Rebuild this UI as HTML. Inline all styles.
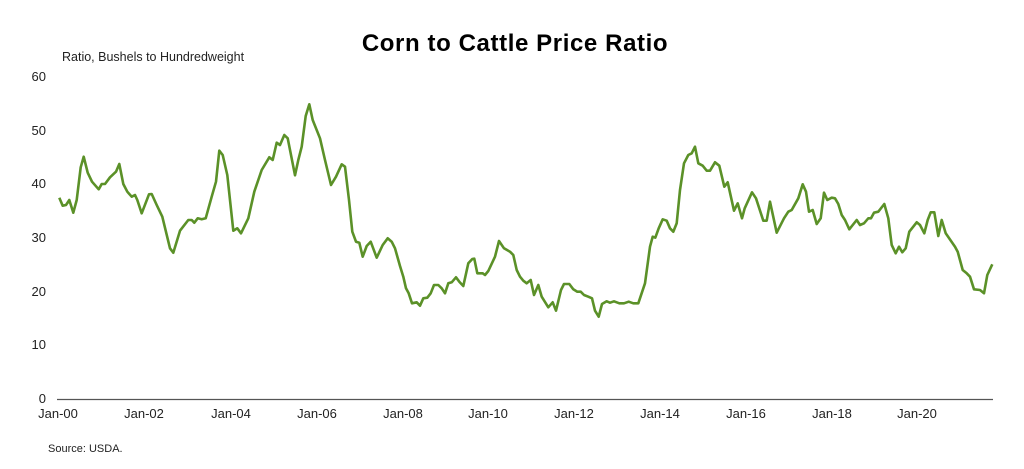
<!DOCTYPE html>
<html><head><meta charset="utf-8"><style>
body{margin:0;background:#fff;}
svg{display:block;font-family:"Liberation Sans",Arial,sans-serif;}
</style></head><body>
<svg width="1024" height="469" viewBox="0 0 1024 469" xmlns="http://www.w3.org/2000/svg">
<rect width="1024" height="469" fill="#fff"/>
<text x="515" y="51" text-anchor="middle" font-size="24" font-weight="bold" letter-spacing="0.6" fill="#000">Corn to Cattle Price Ratio</text>
<text x="62" y="61" font-size="12.5" fill="#222">Ratio, Bushels to Hundredweight</text>
<g font-size="13" fill="#222" text-anchor="end">
<text x="46" y="81">60</text><text x="46" y="135">50</text><text x="46" y="188">40</text>
<text x="46" y="242">30</text><text x="46" y="296">20</text><text x="46" y="349">10</text><text x="46" y="403">0</text>
</g>
<line x1="57" y1="399.5" x2="993" y2="399.5" stroke="#555" stroke-width="1.3"/>
<g font-size="13" fill="#222" text-anchor="middle">
<text x="58" y="418">Jan-00</text><text x="144" y="418">Jan-02</text><text x="231" y="418">Jan-04</text>
<text x="317" y="418">Jan-06</text><text x="403" y="418">Jan-08</text><text x="488" y="418">Jan-10</text>
<text x="574" y="418">Jan-12</text><text x="660" y="418">Jan-14</text><text x="746" y="418">Jan-16</text>
<text x="832" y="418">Jan-18</text><text x="917" y="418">Jan-20</text>
</g>
<text x="48" y="452" font-size="11" fill="#222">Source: USDA.</text>
<polyline fill="none" stroke="#5b9128" stroke-width="2.6" stroke-linejoin="round" points="
59.3,197.7 62.7,205.7 66,205 69.3,200 73.3,212.7 76.7,200 80.7,167.3 83.7,156.7 87.7,172.7 92,181.7 98.7,189.3 101.7,184 105,184 110,177.3 116,171.7 119.3,164 123.3,184 127.3,191.7 131.7,196.7 135,195 137.3,200 141.7,213.3 149,194.3 151.7,194 156.7,205 162.3,216.7 170,248.3 173.3,252.7 180,230.7 188.3,220 191.7,220 194.3,222.7 197.7,218.3 201.7,219.3 205.7,218.3 211.7,196.7 216,181.7 219.3,150.7 222.7,155 227.3,175 233.3,230.7 237.3,228.3 241,233.3 248.3,218.3 254.3,191.7 261.7,170 269.3,157.3 272.7,160 276.7,142.7 280,145 284.3,135 287.7,138.3 295,175.3 298.3,160 301.7,146.7 305.7,116 309.3,104.3 312.7,120 320,138.3 325,160 331,185 336,176.7 341.7,164.3 345,166.7 349,200 352.3,231.7 356,241.7 359.3,242.7 362.7,256.7 366.7,246 370.7,241.7 376.7,257.7 382.7,245 387.7,238.3 391.7,241.7 395,248.3 400,266 403.3,276.7 406,288.3 408.7,293.3 412,303.3 416.7,302.3 420,305.7 423.3,298.3 427.3,297.7 430.7,293.3 434,285 438.3,285 441.7,288.3 445,293.3 448.3,283.3 451.7,282.3 456,277.3 459.3,281.7 463.3,286 468.3,263.3 472.3,259 474.3,258.7 477.3,273.3 482.7,273.3 485,275 488.3,271 495,256.7 499,241 504,248.3 510,251.7 513.3,255 516.7,270 520,276.7 523.3,280.7 526.7,283.3 530.7,280 534,295 538.3,285 541.7,296.7 548.3,307.3 552.7,302.3 556,310.7 561,290 564,284 569.3,284 573.3,289.3 577.3,291.7 580.7,291.7 584,295 588.3,296.7 592,298.3 595,310.7 598.7,316.7 602,304 606.7,301.3 610,302.7 614,301.3 619.3,303.3 624,303.3 628.7,301.7 633.3,303.3 638.3,303.3 645,283.3 650,246.7 652.7,236.7 655.3,237.7 658.7,228.3 662.7,219.3 666.7,220.7 670,228.3 673.3,231.7 676.7,223.3 680,190 684,163.3 688.3,155 691.7,153.3 695,146.7 698.3,163.3 702.7,165.7 706.7,170.7 710,170.7 715,162.3 719.3,165.7 724.3,186.7 727.7,182.3 734,210.7 737.7,203.3 742,218.3 744.7,208.3 752,192.3 756,198.3 763.3,220.7 766.7,220.7 770,201.7 776.7,232.7 784,218.3 788.3,211.7 791.7,210 798.3,198.3 802.7,184.3 806,191.7 809,211.7 812.7,210 816.7,224 820.7,218.3 824,192.7 827.3,200 831.7,197.7 835,198.3 838.3,204 841.7,215 845,220 849.3,229.3 856.7,220 860,225 864,223.3 868.3,218.3 871,218.3 874,212.7 878.3,211.7 884.3,204 888.3,218.3 891.7,245 895.7,253.3 899,246.7 902.3,252.3 905.7,248.3 909.3,231.7 916.7,222.3 920,225 924.3,233.3 927.7,220 930.7,212.3 934.3,212.3 938.3,236 941.7,220 945.7,233.3 955,246.7 957.7,251.7 962.7,270 966.7,273.3 970,276.7 974,289.3 980,290 984,293.3 987.3,275 992.3,264.3"/>
</svg>
</body></html>
